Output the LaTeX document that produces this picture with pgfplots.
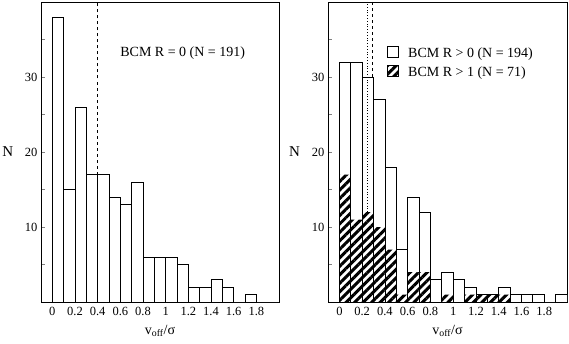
\documentclass[border=0pt]{standalone}
\usepackage{pgfplots}
\pgfplotsset{compat=1.18}
\usepackage{fontspec}
\setmainfont{Liberation Serif}
\usetikzlibrary{patterns.meta}

\tikzset{hatch/.style={pattern={Lines[angle=45,distance=6pt,line width=3pt]},pattern color=black}}

\pgfplotsset{
  histo/.style={
    scale only axis,
    height=300pt,
    xmin=-0.1, xmax=2, ymin=0, ymax=40,
    xtick={0,0.2,0.4,0.6,0.8,1,1.2,1.4,1.6,1.8},
    ytick={10,20,30}, minor ytick={5,15,25,35},
    ytick pos=left, tick align=inside,
    major tick length=4pt, minor tick length=4pt,
    x tick style={draw=none},
    tick style={line width=0.7pt},
    tick label style={font=\fontsize{12.5}{14}\selectfont},
    xticklabel style={yshift=-2pt},
    /pgf/number format/assume math mode=true,
    xlabel={v\textsubscript{off}/σ},
    ylabel={N},
    every axis y label/.style={at={(rel axis cs:-0.14,0.5)},anchor=center,font=\fontsize{15}{17}\selectfont},
    every axis x label/.style={at={(rel axis cs:0.5,0)},anchor=base,yshift=-32pt,font=\fontsize{14}{16}\selectfont},
    axis line style={line width=0.8pt},
  }
}

\begin{document}
\begin{tikzpicture}
\useasboundingbox (-41pt,-41pt) rectangle (528pt,302pt);

% left panel: BCM R = 0
\begin{axis}[histo, width=238pt, at={(0pt,0pt)}, anchor=south west]
\addplot[ybar interval, fill=white, draw=black, line width=0.8pt] coordinates {
  (0,38) (0.1,15) (0.2,26) (0.3,17) (0.4,17) (0.5,14) (0.6,13) (0.7,16)
  (0.8,6) (0.9,6) (1.0,6) (1.1,5) (1.2,2) (1.3,2) (1.4,3) (1.5,2)
  (1.6,0) (1.7,1) (1.8,0) (1.9,0) (2.0,0)
};
\addplot[dashed, line width=0.8pt] coordinates {(0.4,17) (0.4,40)};
\node[font=\fontsize{14}{16}\selectfont] at (axis cs:1.15,33.2) {BCM R = 0 (N = 191)};
\end{axis}

% right panel: BCM R > 0 and R > 1
\begin{axis}[histo, width=239pt, at={(287pt,0pt)}, anchor=south west,
  legend style={draw=none, fill=none, at={(0.235,0.86)}, anchor=north west,
    font=\fontsize{14}{16}\selectfont, row sep=3pt},
  legend cell align=left,
  legend image code/.code={\draw[#1, draw=black, line width=0.8pt] (0pt,-4pt) rectangle (11pt,7pt);},
]
\addplot[ybar interval, fill=white, draw=black, line width=0.8pt] coordinates {
  (0,32) (0.1,32) (0.2,30) (0.3,27) (0.4,18) (0.5,7) (0.6,14) (0.7,12)
  (0.8,3) (0.9,4) (1.0,3) (1.1,2) (1.2,1) (1.3,1) (1.4,2) (1.5,1)
  (1.6,1) (1.7,1) (1.8,0) (1.9,1) (2.0,1)
};
\addlegendentry{\hspace{7pt}BCM R > 0 (N = 194)}
\addplot[ybar interval, hatch, draw=none] coordinates {
  (0,17) (0.1,11) (0.2,12) (0.3,10) (0.4,7) (0.5,1) (0.6,4) (0.7,4)
  (0.8,0) (0.9,1) (1.0,0) (1.1,1) (1.2,1) (1.3,1) (1.4,1) (1.5,0)
};
\addlegendentry{\hspace{7pt}BCM R > 1 (N = 71)}
\addplot[dotted, line width=0.8pt, forget plot] coordinates {(0.245,12) (0.245,40)};
\addplot[dashed, line width=0.8pt, forget plot] coordinates {(0.29,30) (0.29,40)};
\end{axis}
\end{tikzpicture}
\end{document}
